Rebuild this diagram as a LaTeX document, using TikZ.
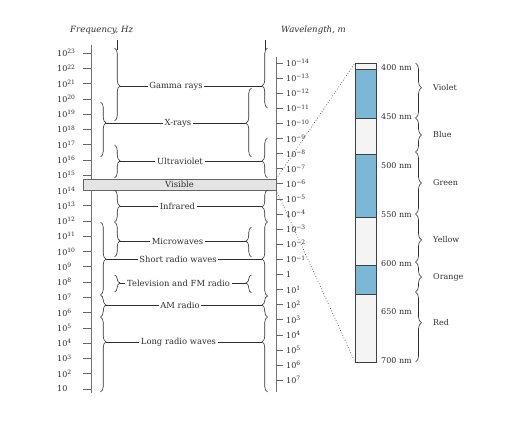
\documentclass[tikz,border=0pt]{standalone}
\usepackage{fontspec}
\setmainfont{DejaVu Serif}
\usetikzlibrary{decorations.pathreplacing}
\definecolor{specblue}{RGB}{122,184,214}
\definecolor{specwhite}{RGB}{244,244,244}
\definecolor{visgray}{RGB}{228,228,228}
\definecolor{ink}{RGB}{45,45,45}
\begin{document}
\begin{tikzpicture}[x=1pt,y=-1pt,
  lbl/.style={font=\fontsize{8.4}{10}\selectfont, text=ink, inner sep=1.5pt},
  axlbl/.style={font=\fontsize{8}{9}\selectfont, text=ink, anchor=west, inner sep=0pt},
  ttl/.style={font=\fontsize{8.6}{10}\selectfont\itshape, text=ink, anchor=west, inner sep=0pt},
  conn/.style={draw=ink, line width=0.6pt},
  axisline/.style={draw=black!55, line width=0.9pt},
  tick/.style={draw=black!60, line width=0.6pt},
  brL/.style={draw=ink, line width=0.6pt, decorate, decoration={brace, amplitude=5.5pt, aspect=#1}},
  brR/.style={draw=ink, line width=0.6pt, decorate, decoration={brace, mirror, amplitude=5.5pt, aspect=#1}},
  brS/.style={draw=ink, line width=0.6pt, decorate, decoration={brace, amplitude=6pt, aspect=#1}},
  seg/.style={draw=black!75, line width=0.6pt},
  dots/.style={draw=black!70, line width=0.7pt, dotted}
]
\useasboundingbox (0,0) rectangle (512,441);

% titles
\node[ttl] (tf) at (70,30) {Frequency, Hz};
\node[ttl] (tw) at (281,30) {Wavelength, m};

% left axis
\draw[axisline] (91,45) -- (91,393);
\foreach \n [count=\i from 0] in {23,22,...,2} {
  \pgfmathsetmacro{\yy}{53+\i*15.27}
  \draw[tick] (83,\yy) -- (91,\yy);
  \node[axlbl] at (57,\yy) {10\textsuperscript{\n}};
}
\draw[tick] (83,389) -- (91,389);
\node[axlbl] at (57,389) {10};

% right axis
\draw[axisline] (276,57) -- (276,392);
\foreach \m [count=\i from 0] in {−14,−13,−12,−11,−10,−9,−8,−7,−6,−5,−4,−3,−2,−1} {
  \pgfmathsetmacro{\yy}{63+\i*15.1}
  \draw[tick] (276,\yy) -- (283,\yy);
  \node[axlbl] at (286,\yy) {10\textsuperscript{\m}};
}
\draw[tick] (276,274.4) -- (283,274.4);
\node[axlbl] at (286,274.4) {1};
\foreach \m [count=\i from 15] in {1,2,...,7} {
  \pgfmathsetmacro{\yy}{63+\i*15.1}
  \draw[tick] (276,\yy) -- (283,\yy);
  \node[axlbl] at (286,\yy) {10\textsuperscript{\m}};
}

% visible band
\node[draw=black!60, fill=visgray, line width=0.6pt, minimum width=193pt, minimum height=11pt, inner sep=0pt,
      font=\fontsize{8.4}{10}\selectfont, text=ink] (vis) at (179.5,184.5) {Visible};

% labels
\node[lbl] (gam) at (176,86) {Gamma rays};
\node[lbl] (xr)  at (178,123) {X-rays};
\node[lbl] (uv)  at (180,161) {Ultraviolet};
\node[lbl] (ir)  at (177.5,206) {Infrared};
\node[lbl] (mw)  at (177.5,241) {Microwaves};
\node[lbl] (sr)  at (178,259) {Short radio waves};
\node[lbl] (tv)  at (178.5,283) {Television and FM radio};
\node[lbl] (am)  at (180,305) {AM radio};
\node[lbl] (lr)  at (178.5,342) {Long radio waves};

% left braces (tips pointing right)
\draw[conn] (117,40) -- (117,50);
\draw[brL=0.52] (114.5,48) -- (114.5,121);
\draw[brL=0.38] (100.5,102) -- (100.5,157);
\draw[brL=0.48] (114.5,145) -- (114.5,178);
\draw[brL=0.5]  (114.5,190) -- (114.5,222);
\draw[brL=0.54] (114.5,222) -- (114.5,257);
\draw[brL=0.507] (100.5,222) -- (100.5,295);
\draw[brL=0.47] (114.5,275) -- (114.5,292);
\draw[brL=0.45] (100.5,295) -- (100.5,317);
\draw[brL=0.33] (100.5,317) -- (100.5,392);

\coordinate (gL) at (120,86);
\coordinate (xL) at (106,123);
\coordinate (uL) at (120,161);
\coordinate (iL) at (120,206);
\coordinate (mL) at (120,241);
\coordinate (sL) at (106,259);
\coordinate (tL) at (120,283);
\coordinate (aL) at (106,305);
\coordinate (lL) at (106,342);

% right braces (tips pointing left)
\draw[conn] (265,40) -- (265,50);
\draw[brR=0.63] (267.5,48) -- (267.5,108);
\draw[brR=0.51] (251.5,88) -- (251.5,157);
\draw[brR=0.575] (267.5,138) -- (267.5,178);
\draw[brR=0.53] (267.5,190) -- (267.5,222);
\draw[brR=0.47] (251.5,227) -- (251.5,257);
\draw[brR=0.5] (267.5,222) -- (267.5,296);
\draw[brR=0.44] (251.5,275) -- (251.5,293);
\draw[brR=0.43] (267.5,296) -- (267.5,317);
\draw[brR=0.33] (267.5,317) -- (267.5,392);

\coordinate (gR) at (262,86);
\coordinate (xR) at (246,123);
\coordinate (uR) at (262,161);
\coordinate (iR) at (262,206);
\coordinate (mR) at (246,241);
\coordinate (sR) at (262,259);
\coordinate (tR) at (246,283);
\coordinate (aR) at (262,305);
\coordinate (lR) at (262,342);

% connectors
\foreach \a/\b in {gL/gam,xL/xr,uL/uv,iL/ir,mL/mw,sL/sr,tL/tv,aL/am,lL/lr} {
  \draw[conn] (\a) -- (\b.west);
}
\foreach \a/\b in {gR/gam,xR/xr,uR/uv,iR/ir,mR/mw,sR/sr,tR/tv,aR/am,lR/lr} {
  \draw[conn] (\b.east) -- (\a);
}

% spectrum bar
\draw[seg, fill=specwhite] (355,63) rectangle (376,69);
\draw[seg, fill=specblue] (355,69) rectangle (376,118);
\draw[seg, fill=specwhite] (355,118) rectangle (376,154);
\draw[seg, fill=specblue] (355,154) rectangle (376,217);
\draw[seg, fill=specwhite] (355,217) rectangle (376,265);
\draw[seg, fill=specblue] (355,265) rectangle (376,294);
\draw[seg, fill=specwhite] (355,294) rectangle (376,362);
\coordinate (bartop) at (355,63);
\coordinate (barbot) at (355,362);

\draw[dots] (vis.north east) -- (bartop);
\draw[dots] (vis.south east) -- (barbot);

% nm labels
\foreach \w in {400,450,...,700} {
  \pgfmathsetmacro{\yy}{67.5+(\w-400)*0.978}
  \node[axlbl] at (381,\yy) {\w\ nm};
}

% colour braces
\draw[brS=0.45] (415.5,63) -- (415.5,118);
\draw[brS=0.5]  (415.5,118) -- (415.5,152);
\draw[brS=0.5]  (415.5,152) -- (415.5,214);
\draw[brS=0.54] (415.5,214) -- (415.5,262);
\draw[brS=0.5]  (415.5,262) -- (415.5,292);
\draw[brS=0.44] (415.5,292) -- (415.5,362);

\node[axlbl] (cv) at (433,88) {Violet};
\node[axlbl] (cb) at (433,135) {Blue};
\node[axlbl] (cg) at (433,183) {Green};
\node[axlbl] (cy) at (433,240) {Yellow};
\node[axlbl] (co) at (433,277) {Orange};
\node[axlbl] (cr) at (433,323) {Red};
\end{tikzpicture}
\end{document}
